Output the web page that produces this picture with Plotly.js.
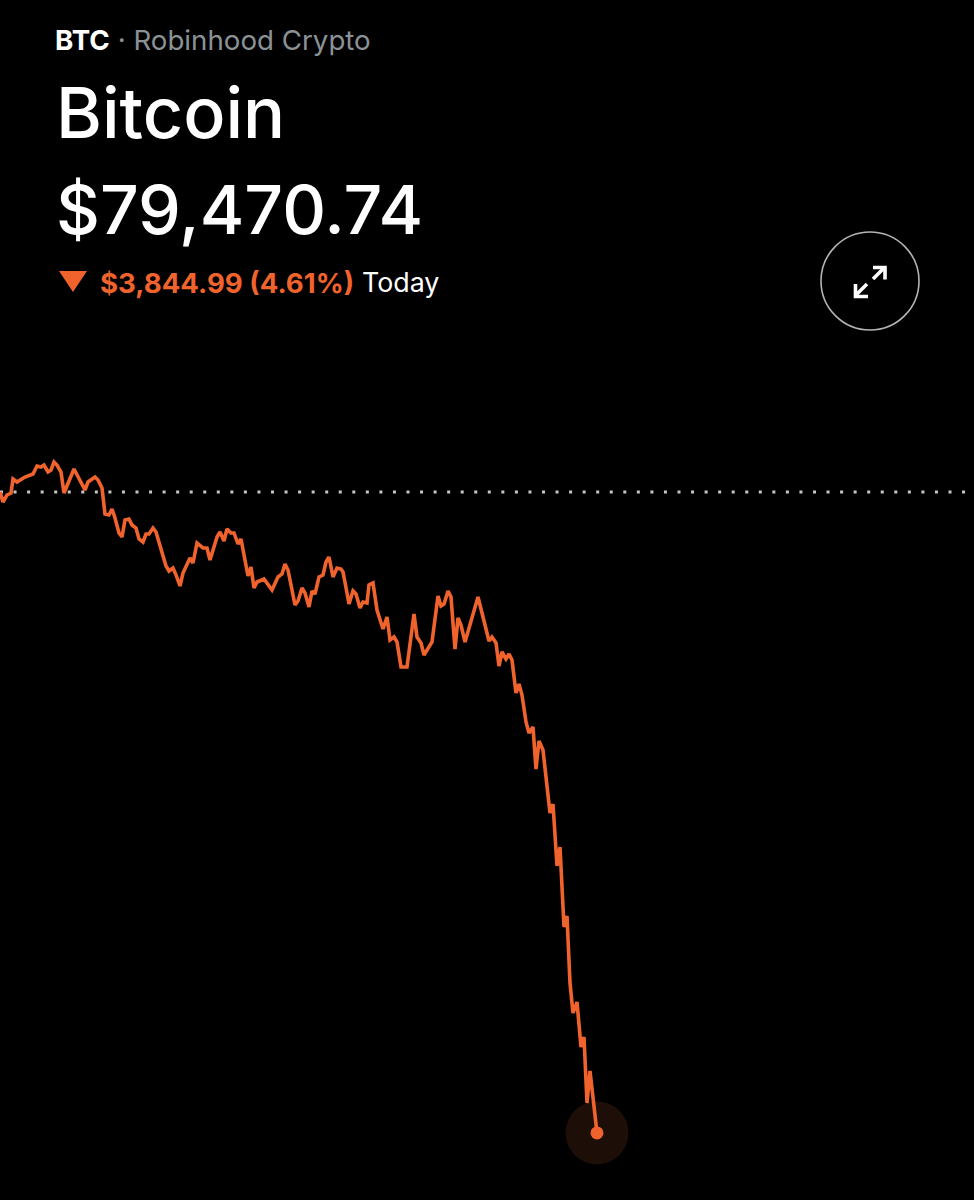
<!DOCTYPE html>
<html><head><meta charset="utf-8">
<script src="https://cdn.plot.ly/plotly-3.0.1.min.js"></script>
<style>html,body{margin:0;padding:0;background:#000}#c{width:974px;height:1200px}</style></head>
<body><div id="c"></div>
<script>
const minutes = [0,4.5,10.5,16.5,19.5,25.5,37.5,49.5,55.5,61.5,66,72,76.5,81,85.5,91.5,96,111,127.5,132,142.5,147,153,157.5,163.5,168,172.5,178.5,183,187.5,193.5,198,204,208.5,214.5,219,223.5,229.5,234,244.5,249,253.5,259.5,264,270,274.5,285,289.5,295.5,304.5,310.5,315,325.5,330,336,340.5,346.5,351,357,361.5,372,376.5,381,385.5,390,
396,408,417,423,427.5,432,442.5,447,453,457.5,463.5,468,472.5,478.5,484.5,489,493.5,499.5,505.5,511.5,514.5,520.5,523.5,529.5,534,540,544.5,550.5,553.5,559.5,565.5,574.5,580.5,585,591,595.5,601.5,610.5,621,625.5,631.5,636,645,648,657,661.5,666,672,676.5,682.5,687,691.5,697.5,717,733.5,738,744,748.5,753,759,763.5,768,774,778.5,783,789,793.5,799.5,804,808.5,814.5,825,829.5,835.5,840,844.5,846,850.5,855,859.5,865.5,871.5,876,880.5,885,895.5];
const price = [83316,83256,83298,83310,83394,83376,83406,83424,83472,83466,83478,83436,83448,83496,83478,83436,83310,83454,83328,83376,83406,83388,83340,83184,83178,83214,83160,83070,83046,83148,83154,83118,83100,83034,83016,83064,83064,83100,83076,82920,82872,82842,82860,82818,82752,82830,82920,82890,83010,82980,82980,82908,83046,83076,83022,83094,83070,83070,83004,83034,82812,82866,82740,82776,82782,
82794,82728,82806,82824,82884,82848,82638,82662,82740,82710,82626,82722,82704,82806,82818,82896,82926,82806,82860,82854,82836,82710,82644,82722,82704,82620,82656,82650,82758,82770,82608,82494,82566,82428,82446,82416,82266,82266,82584,82446,82410,82338,82398,82416,82692,82632,82644,82722,82686,82374,82560,82518,82416,82686,82422,82446,82410,82272,82356,82314,82344,82308,82110,82164,82098,81936,81870,81906,81654,81822,81768,81390,81444,81072,81186,80808,80706,80772,80370,80190,80256,79986,80046,79650,79842,79470];
const prevClose = 83316;
const lastPrice = 79470.74;
const ticker = "BTC";
const broker = "Robinhood Crypto";
const assetName = "Bitcoin";
const quote = "$79,470.74";
const change = "$3,844.99 (4.61%)";
const period = "Today";

const W = 974, H = 1200, ORANGE = "#f0632d";
const X = p => p / W, Y = p => 1 - p / H;
const FONT = "Inter, 'Liberation Sans', sans-serif";
const last = minutes.length - 1;
const note = (px, py, text, size, color, weight) => ({xref:"paper", yref:"paper", x:X(px), y:Y(py), xanchor:"left", yanchor:"middle",
  showarrow:false, text, align:"left", font:{family:FONT, size, color, weight:weight||400}, borderpad:0, borderwidth:0});
const pathP = pts => "M" + pts.map(p => X(p[0]) + "," + Y(p[1])).join("L");

const data = [
  {x:[0,1461], y:[prevClose,prevClose], mode:"lines", hoverinfo:"skip", showlegend:false,
   line:{color:"#c4c6c4", width:3, dash:"3px,10.55px", shape:"linear"}},
  {x:[minutes[last]], y:[lastPrice], mode:"markers", hoverinfo:"skip", showlegend:false,
   marker:{size:63, color:"#1d0e07"}},
  {x:minutes, y:price, mode:"lines", hoverinfo:"skip", showlegend:false,
   line:{color:ORANGE, width:3.6, shape:"linear"}},
  {x:[minutes[last]], y:[lastPrice], mode:"markers", hoverinfo:"skip", showlegend:false,
   marker:{size:13, color:ORANGE}}
];
const iconLine = {color:"#ffffff", width:3.6};
const layout = {
  width:W, height:H, margin:{l:0,r:0,t:0,b:0}, paper_bgcolor:"#000", plot_bgcolor:"#000", showlegend:false,
  xaxis:{range:[0,1461], visible:false, fixedrange:true},
  yaxis:{range:[79068,86268], visible:false, fixedrange:true},
  annotations:[
    note(55, 40, "<b>"+ticker+"</b><span style='color:#8b9296'> · "+broker+"</span>", 27.7, "#ffffff"),
    note(56, 112, assetName, 70, "#ffffff", 500),
    note(56, 209, quote, 68, "#ffffff", 500),
    note(100, 283, "<b>"+change+"</b>", 27.6, ORANGE),
    note(362, 282, period, 26.8, "#ffffff")
  ],
  shapes:[
    {type:"path", xref:"paper", yref:"paper", path:pathP([[59,271],[87,271],[73,292]])+"Z", fillcolor:ORANGE, line:{width:0}},
    {type:"circle", xref:"paper", yref:"paper", x0:X(821), x1:X(919), y0:Y(232), y1:Y(330), line:{color:"#b4b4b4", width:1.6}, fillcolor:"rgba(0,0,0,0)"},
    {type:"path", xref:"paper", yref:"paper", path:pathP([[873,279],[884,268]]), line:iconLine},
    {type:"path", xref:"paper", yref:"paper", path:pathP([[873,267.5],[885,267.5],[885,279.5]]), line:iconLine},
    {type:"path", xref:"paper", yref:"paper", path:pathP([[856,295],[867,284]]), line:iconLine},
    {type:"path", xref:"paper", yref:"paper", path:pathP([[855.5,284],[855.5,296.5],[868,296.5]]), line:iconLine}
  ]
};
Plotly.newPlot("c", data, layout, {displayModeBar:false, staticPlot:true});
</script></body></html>
